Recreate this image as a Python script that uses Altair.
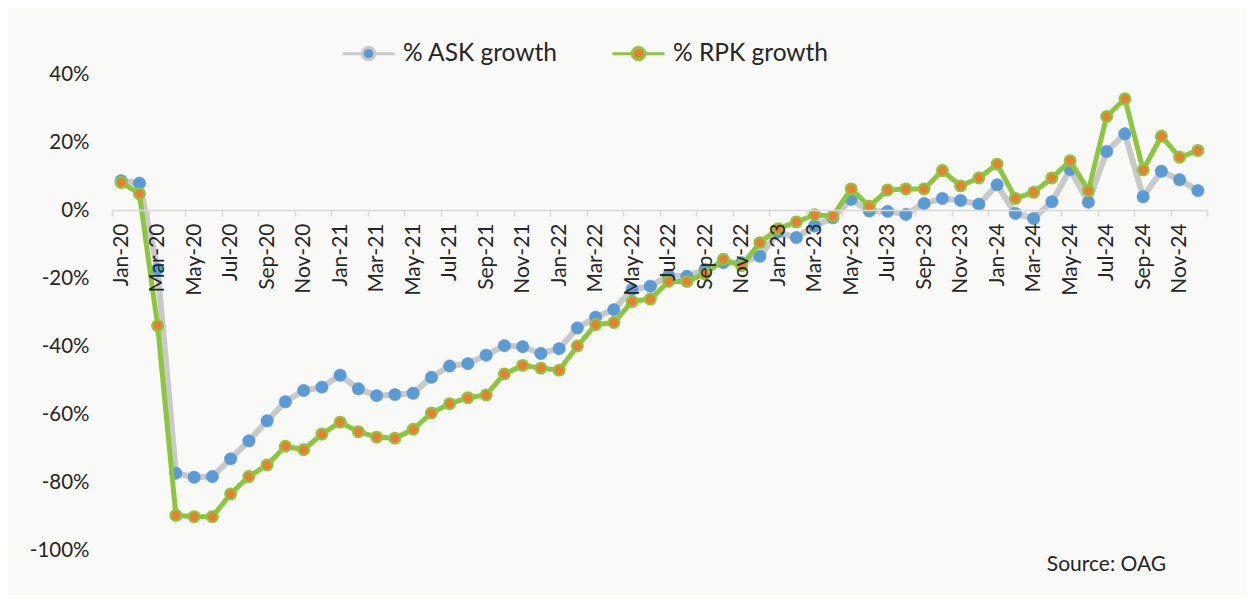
import altair as alt
import pandas as pd

months = [
    "Jan-20", "Feb-20", "Mar-20", "Apr-20", "May-20", "Jun-20", "Jul-20", "Aug-20", "Sep-20", "Oct-20", "Nov-20", "Dec-20",
    "Jan-21", "Feb-21", "Mar-21", "Apr-21", "May-21", "Jun-21", "Jul-21", "Aug-21", "Sep-21", "Oct-21", "Nov-21", "Dec-21",
    "Jan-22", "Feb-22", "Mar-22", "Apr-22", "May-22", "Jun-22", "Jul-22", "Aug-22", "Sep-22", "Oct-22", "Nov-22", "Dec-22",
    "Jan-23", "Feb-23", "Mar-23", "Apr-23", "May-23", "Jun-23", "Jul-23", "Aug-23", "Sep-23", "Oct-23", "Nov-23", "Dec-23",
    "Jan-24", "Feb-24", "Mar-24", "Apr-24", "May-24", "Jun-24", "Jul-24", "Aug-24", "Sep-24", "Oct-24", "Nov-24", "Dec-24",
]

ask_growth = [
    8.6, 7.9, -17.4, -77.4, -78.6, -78.4, -73.2, -67.9, -62.0, -56.4, -53.1, -52.1,
    -48.6, -52.6, -54.6, -54.3, -53.9, -49.2, -45.9, -45.2, -42.7, -39.9, -40.2, -42.2,
    -40.8, -34.7, -31.5, -29.3, -23.4, -22.4, -19.3, -19.5, -17.5, -15.5, -15.5, -13.6,
    -6.5, -8.1, -4.7, -2.3, 3.1, -0.3, -0.4, -1.3, 1.9, 3.4, 2.8, 1.7,
    7.4, -1.0, -2.5, 2.4, 11.9, 2.3, 17.2, 22.4, 3.9, 11.4, 8.9, 5.7,
]

rpk_growth = [
    8.1, 4.8, -34.0, -89.8, -90.2, -90.2, -83.5, -78.4, -75.0, -69.5, -70.5, -65.9,
    -62.4, -65.2, -66.8, -67.1, -64.5, -59.7, -57.0, -55.2, -54.4, -48.2, -45.7, -46.5,
    -47.1, -40.0, -33.7, -33.1, -26.9, -26.2, -21.0, -21.0, -18.8, -14.5, -16.4, -9.6,
    -5.5, -3.5, -1.4, -1.8, 6.2, 1.1, 5.9, 6.2, 6.2, 11.6, 7.1, 9.4,
    13.5, 3.4, 5.2, 9.4, 14.5, 5.7, 27.5, 32.7, 11.8, 21.7, 15.5, 17.5,
]

series_names = ["% ASK growth", "% RPK growth"]
line_colors = ["#c9c9c9", "#8cc63f"]
marker_colors = ["#5b9bd5", "#ed7d31"]
y_ticks = [-100, -80, -60, -40, -20, 0, 20, 40]

rows = []
for i, m in enumerate(months):
    rows.append({"idx": i, "month": m, "series": series_names[0], "value": ask_growth[i]})
    rows.append({"idx": i, "month": m, "series": series_names[1], "value": rpk_growth[i]})
df = pd.DataFrame(rows)

n = len(months)
boundaries = [i - 0.5 for i in range(0, n + 1, 2)]
month_array = "[" + ",".join("'" + m + "'" for m in months) + "]"

FONT = "Lato"
TXT = "#262626"

x_axis = alt.Axis(
    values=boundaries,
    labelExpr=month_array + "[datum.value + 0.5] || ''",
    labelAngle=-90,
    labelOffset=9.125,
    labelFontSize=21,
    labelFont=FONT,
    labelColor=TXT,
    labelPadding=7,
    labelOverlap=False,
    labelFlush=False,
    tickSize=6,
    tickColor="#d9d9d9",
    tickWidth=1.5,
    domainColor="#d9d9d9",
    domainWidth=1.5,
    grid=False,
    title=None,
    offset=-340,
    zindex=1,
)
y_axis = alt.Axis(
    values=y_ticks,
    labelExpr="datum.value + '%'",
    labelFontSize=20.5,
    labelFont=FONT,
    labelColor=TXT,
    labelPadding=23,
    ticks=False,
    domain=False,
    grid=False,
    title=None,
)

x_enc = alt.X("idx:Q", scale=alt.Scale(domain=[-0.5, n - 0.5], nice=False, zero=False), axis=x_axis)
y_enc = alt.Y("value:Q", scale=alt.Scale(domain=[-100, 40], nice=False, zero=False), axis=y_axis)

legend_path = "M-1,0H-0.24M0.24,0H1M-0.24,0A0.24,0.24 0 1,1 0.24,0A0.24,0.24 0 1,1 -0.24,0Z"
leg = alt.Legend(
    orient="none",
    legendX=229,
    legendY=-48,
    direction="horizontal",
    title=None,
    symbolType=legend_path,
    symbolSize=2704,
    symbolStrokeWidth=3,
    symbolOpacity=1,
    labelFontSize=24.5,
    labelFont=FONT,
    labelColor=TXT,
    labelOffset=7,
    labelLimit=400,
    columnPadding=48,
)

stroke_scale = alt.Scale(domain=series_names, range=line_colors)
fill_scale = alt.Scale(domain=series_names, range=marker_colors)

base = alt.Chart(df)

def series_filter(name):
    return alt.datum.series == name

ask_line = base.transform_filter(series_filter(series_names[0])).mark_line(strokeWidth=6).encode(
    x=x_enc, y=y_enc, stroke=alt.Stroke("series:N", scale=stroke_scale, legend=leg)
)
ask_pts = base.transform_filter(series_filter(series_names[0])).mark_point(
    filled=True, shape="circle", size=155, opacity=1, stroke=marker_colors[0], strokeWidth=0.5
).encode(
    x=x_enc, y=y_enc, fill=alt.Fill("series:N", scale=fill_scale, legend=leg)
)
rpk_line = base.transform_filter(series_filter(series_names[1])).mark_line(strokeWidth=5).encode(
    x=x_enc, y=y_enc, stroke=alt.Stroke("series:N", scale=stroke_scale, legend=leg)
)
rpk_pts = base.transform_filter(series_filter(series_names[1])).mark_point(
    filled=True, shape="circle", size=115, opacity=1, strokeWidth=2.2, strokeOpacity=1
).encode(
    x=x_enc, y=y_enc,
    fill=alt.Fill("series:N", scale=fill_scale, legend=leg),
    stroke=alt.Stroke("series:N", scale=stroke_scale, legend=leg),
)

chart = alt.layer(ask_line, ask_pts, rpk_line, rpk_pts).properties(
    width=1095,
    height=476,
    autosize=alt.AutoSizeParams(type="none"),
    padding={"left": 104, "top": 66, "right": 40, "bottom": 45},
    background="#f9f9f8",
    title=alt.TitleParams(
        "Source: OAG", orient="bottom", anchor="end", dx=-60, offset=-7,
        fontSize=21, font=FONT, fontWeight="normal", color=TXT,
    ),
).configure_view(strokeWidth=0)

chart.save("out.html", embed_options={"renderer": "svg", "actions": False})
